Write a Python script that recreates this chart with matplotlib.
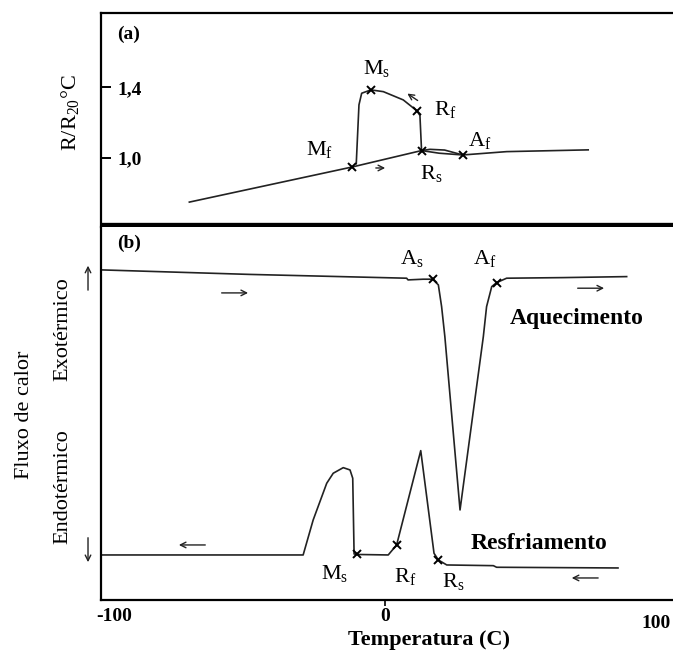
import matplotlib
matplotlib.use("Agg")
import matplotlib.pyplot as plt

plt.rcParams['font.family'] = ['Liberation Serif', 'DejaVu Serif']
plt.rcParams['mathtext.fontset'] = 'custom'
plt.rcParams['mathtext.rm'] = 'Liberation Serif'
plt.rcParams['mathtext.it'] = 'Liberation Serif:italic'
plt.rcParams['mathtext.bf'] = 'Liberation Serif:bold'

# (a) resistencia eletrica normalizada
heat_a_T = [-72.2, -12.0, 13.5, 20.0, 28.7, 44.9, 75.0]
heat_a_R = [0.747, 0.947, 1.040, 1.025, 1.015, 1.034, 1.044]
cool_a_T = [28.7, 22.0, 16.6, 13.5, 12.9, 11.7, 6.75, -0.6, -5.2, -8.6, -9.6, -10.6]
cool_a_R = [1.015, 1.043, 1.047, 1.040, 1.240, 1.267, 1.328, 1.375, 1.385, 1.366, 1.300, 0.965]
pts_a = ['M$_\\mathrm{f}$', 'M$_\\mathrm{s}$', 'R$_\\mathrm{f}$', 'R$_\\mathrm{s}$', 'A$_\\mathrm{f}$']
pts_a_T = [-12.0, -5.2, 11.7, 13.5, 28.7]
pts_a_R = [0.947, 1.385, 1.267, 1.040, 1.015]
lbl_a_T = [-24.0, -3.1, 22.1, 17.2, 35.1]
lbl_a_R = [1.044, 1.508, 1.271, 0.911, 1.100]

# (b) DSC - fluxo de calor (unidades arbitrarias)
heat_b_T = [-104.5, -50, 8.0, 8.5, 14.1, 17.6, 19.7, 20.9, 22.1, 27.7, 36.3, 37.5, 39.4, 41.2, 44.9, 65.8, 89.2]
heat_b_y = [328, 323.5, 319.7, 318, 318.7, 318.7, 313, 291.3, 261.3, 88, 261.3, 291.3, 311.3, 315.3, 319.7, 320.3, 321.3]
cool_b_T = [-104.5, -30.2, -26.5, -21.5, -19.1, -15.4, -12.9, -11.9, -11.4, -10.4, 1.2, 4.3, 13.2, 18.1, 19.7, 22.8, 40.0, 41.2, 86.0]
cool_b_y = [43, 43, 78, 114.7, 124.7, 130.3, 128, 119.7, 44, 43.5, 43, 53, 147.3, 44.7, 38, 33, 32.3, 30.7, 30]
pts_b = ['A$_\\mathrm{s}$', 'A$_\\mathrm{f}$', 'M$_\\mathrm{s}$', 'R$_\\mathrm{f}$', 'R$_\\mathrm{s}$']
pts_b_T = [17.6, 41.2, -10.4, 4.3, 19.7]
pts_b_y = [318.7, 315.3, 43.5, 53, 38]
lbl_b_T = [9.9, 36.9, -18.5, 7.4, 25.2]
lbl_b_y = [339.7, 339.7, 24.7, 21.3, 16.3]

xticks = [-100, 0, 100]
xtick_labels = ['-100', '0', '100']
yticks_a = [1.0, 1.4]
ytick_labels_a = ['1,0', '1,4']

fig = plt.figure(figsize=(6.73, 6.52), dpi=100)
ax_a = fig.add_axes([0.1501, 0.652, 0.8499, 0.328])
ax_b = fig.add_axes([0.1501, 0.0798, 0.8499, 0.5722])

xlim = (-104.8, 106.3)
lc = '#222222'

# ---- painel (a)
ax_a.plot(heat_a_T, heat_a_R, color=lc, lw=1.2)
ax_a.plot(cool_a_T, cool_a_R, color=lc, lw=1.2)
ax_a.plot(pts_a_T, pts_a_R, 'x', color='black', ms=6, mew=1.4)
for s, t, r in zip(pts_a, lbl_a_T, lbl_a_R):
    ax_a.text(t, r, s, fontsize=16, ha='center', va='center')
ax_a.annotate('', xy=(1.1, 0.941), xytext=(-4.4, 0.941),
              arrowprops=dict(arrowstyle='->', lw=1, color=lc))
ax_a.annotate('', xy=(7.4, 1.373), xytext=(12.9, 1.316),
              arrowprops=dict(arrowstyle='->', lw=1, color=lc))
ax_a.text(-94.5, 1.70, '(a)', fontsize=14, fontweight='bold', ha='center', va='center')
ax_a.set_xlim(xlim)
ax_a.set_ylim(0.606, 1.822)
ax_a.set_xticks([])
ax_a.set_yticks(yticks_a)
ax_a.set_yticklabels(ytick_labels_a, fontsize=14, fontweight='bold')
ax_a.tick_params(axis='y', direction='in', length=7, width=1.4, pad=-12)
for lb in ax_a.get_yticklabels():
    lb.set_horizontalalignment('left')
ax_a.spines['right'].set_visible(False)
ax_a.spines['left'].set_linewidth(1.6)
ax_a.spines['top'].set_linewidth(1.6)
ax_a.spines['bottom'].set_linewidth(6)
ax_a.spines['bottom'].set_capstyle('butt')
fig.text(70 / 673, 1 - 113 / 652, 'R/R$_{\\mathrm{20}}$°C', rotation=90,
         fontsize=16, ha='center', va='center')

# ---- painel (b)
ax_b.plot(heat_b_T, heat_b_y, color=lc, lw=1.2)
ax_b.plot(cool_b_T, cool_b_y, color=lc, lw=1.2)
ax_b.plot(pts_b_T, pts_b_y, 'x', color='black', ms=6, mew=1.4)
for s, t, y in zip(pts_b, lbl_b_T, lbl_b_y):
    ax_b.text(t, y, s, fontsize=16, ha='center', va='center')
ax_b.text(70.7, 279.7, 'Aquecimento', fontsize=17, fontweight='bold', ha='center', va='center')
ax_b.text(56.8, 54.7, 'Resfriamento', fontsize=17, fontweight='bold', ha='center', va='center')
ax_b.text(-94.5, 355, '(b)', fontsize=14, fontweight='bold', ha='center', va='center')

arr = dict(arrowstyle='->', lw=1, color=lc)
ax_b.annotate('', xy=(-49.5, 305), xytext=(-61.3, 305), arrowprops=arr)
ax_b.annotate('', xy=(81.9, 309.7), xytext=(70.1, 309.7), arrowprops=arr)
ax_b.annotate('', xy=(-77.1, 53), xytext=(-65.3, 53), arrowprops=arr)
ax_b.annotate('', xy=(67.9, 20), xytext=(79.7, 20), arrowprops=arr)
# setas do eixo (exo / endo)
ax_b.annotate('', xy=(-109.6, 335), xytext=(-109.6, 305), arrowprops=arr, annotation_clip=False)
ax_b.annotate('', xy=(-109.6, 33), xytext=(-109.6, 63), arrowprops=arr, annotation_clip=False)

ax_b.set_xlim(xlim)
ax_b.set_ylim(-2, 371)
ax_b.set_yticks([])
ax_b.set_xticks(xticks)
ax_b.set_xticklabels(xtick_labels, fontsize=14, fontweight='bold')
ax_b.tick_params(axis='x', direction='out', length=4, width=1.2, pad=2)
xt = ax_b.xaxis.get_major_ticks()
xt[0].tick1line.set_visible(False)
xt[2].tick1line.set_visible(False)
xt[2].set_pad(7)
ax_b.set_xlabel('Temperatura (C)', fontsize=16, fontweight='bold')
ax_b.xaxis.set_label_coords((429 - 101) / 572, -40 / 373)
ax_b.xaxis.label.set_verticalalignment('center')
ax_b.spines['right'].set_visible(False)
ax_b.spines['top'].set_visible(False)
ax_b.spines['left'].set_linewidth(1.6)
ax_b.spines['bottom'].set_linewidth(1.6)

fig.text(25 / 673, 1 - 415 / 652, 'Fluxo de calor', rotation=90, fontsize=16, ha='center', va='center')
fig.text(63 / 673, 1 - 329 / 652, 'Exotérmico', rotation=90, fontsize=16, ha='center', va='center')
fig.text(63 / 673, 1 - 487 / 652, 'Endotérmico', rotation=90, fontsize=16, ha='center', va='center')

fig.savefig('out.png', dpi=100)
